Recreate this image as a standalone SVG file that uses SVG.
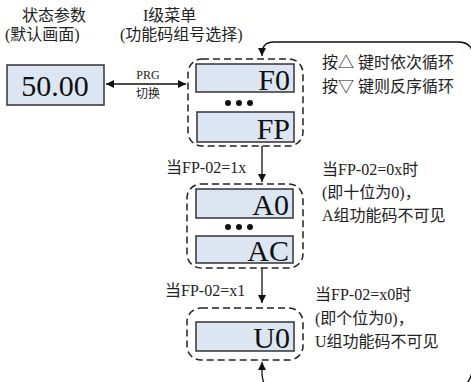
<svg xmlns="http://www.w3.org/2000/svg" width="471" height="382" viewBox="0 0 471 382">
<defs>
<marker id="ah" viewBox="0 0 10 10" refX="10" refY="5" markerWidth="8" markerHeight="8" markerUnits="userSpaceOnUse" orient="auto-start-reverse">
<path d="M0,0 L10,5 L0,10 z" fill="#111"/>
</marker>
<style>
text{font-family:"Liberation Serif","Noto Sans CJK SC",serif;fill:#222}
.t{font-size:16px}
.s{font-size:12px}
.big{font-size:30px;text-anchor:end;fill:#111}
.box{fill:#dce6f2;stroke:#333;stroke-width:1.5}
.grp{fill:none;stroke:#222;stroke-width:1.5;stroke-dasharray:7,4}
.ln{fill:none;stroke:#111;stroke-width:1.3}
.dot{fill:#111}
</style>
</defs>
<g id="titles">
<text class="t" x="22" y="21">状态参数</text>
<text class="t" x="5" y="40">(默认画面)</text>
<text class="t" x="143" y="21">I级菜单</text>
<text class="t" x="120" y="40">(功能码组号选择)</text>
</g>
<g id="status">
<rect class="box" x="7" y="65" width="97" height="40"/>
<text x="55" y="96" style="font-size:30px;text-anchor:middle;fill:#111">50.00</text>
</g>
<g id="groupF">
<rect class="grp" x="188" y="59" width="115" height="87" rx="14"/>
<rect class="box" x="196" y="64" width="98" height="28"/>
<text class="big" x="290" y="90">F0</text>
<circle class="dot" cx="228" cy="103" r="3"/>
<circle class="dot" cx="239" cy="103" r="3"/>
<circle class="dot" cx="250" cy="103" r="3"/>
<rect class="box" x="197" y="112" width="97" height="30"/>
<text class="big" x="290" y="139">FP</text>
</g>
<g id="groupA">
<rect class="grp" x="187" y="184" width="116" height="84" rx="14"/>
<rect class="box" x="196" y="189" width="97" height="29"/>
<text class="big" x="289" y="215">A0</text>
<circle class="dot" cx="228" cy="227" r="3"/>
<circle class="dot" cx="239" cy="227" r="3"/>
<circle class="dot" cx="250" cy="227" r="3"/>
<rect class="box" x="196" y="236" width="97" height="27"/>
<text class="big" x="289" y="261">AC</text>
</g>
<g id="groupU">
<rect class="grp" x="187" y="308" width="116" height="52" rx="14"/>
<rect class="box" x="196" y="322" width="98" height="29"/>
<text class="big" x="290" y="348">U0</text>
</g>
<g id="connectors">
<line class="ln" x1="106" y1="84" x2="186" y2="84" marker-start="url(#ah)" marker-end="url(#ah)"/>
<line class="ln" x1="262" y1="146" x2="262" y2="182" marker-end="url(#ah)"/>
<line class="ln" x1="262" y1="268" x2="262" y2="303" marker-end="url(#ah)"/>
<path class="ln" d="M262,56 L262,54 Q262,42 274,42 L458,42 Q473,42 473,57 L473,362 Q473,392 445,392 L280,392 Q263,392 262,374 L262,362" marker-start="url(#ah)" marker-end="url(#ah)"/>
</g>
<g id="labels">
<text class="s" x="148" y="79" text-anchor="middle">PRG</text>
<text class="s" x="148" y="98" text-anchor="middle">切换</text>
<text class="t" x="322" y="68">按△ 键时依次循环</text>
<text class="t" x="322" y="92">按▽ 键则反序循环</text>
<text class="t" x="166" y="173">当FP-02=1x</text>
<text class="t" x="322" y="175">当FP-02=0x时</text>
<text class="t" x="322" y="198">(即十位为0)，</text>
<text class="t" x="322" y="221">A组功能码不可见</text>
<text class="t" x="165" y="296">当FP-02=x1</text>
<text class="t" x="315" y="300">当FP-02=x0时</text>
<text class="t" x="315" y="324">(即个位为0)，</text>
<text class="t" x="315" y="347">U组功能码不可见</text>
</g>
</svg>
